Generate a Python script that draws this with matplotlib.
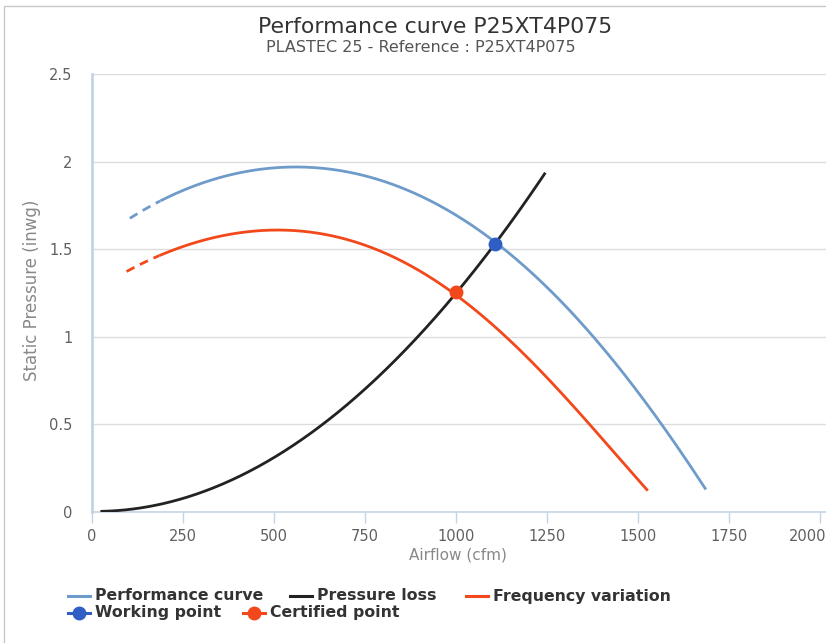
import numpy as np
import matplotlib
matplotlib.use("Agg")
import matplotlib.pyplot as plt
from matplotlib.lines import Line2D
from matplotlib.patches import Rectangle
import matplotlib.transforms as mtrans

# ---- data ----
perf_x = [104, 150, 191, 250, 324, 416, 500, 553, 600, 690, 750, 828, 900, 1000, 1107, 1200, 1300, 1386, 1500, 1560, 1600, 1684]
perf_y = [1.678, 1.73, 1.78, 1.84, 1.887, 1.939, 1.965, 1.97, 1.967, 1.945, 1.92, 1.878, 1.81, 1.683, 1.53, 1.37, 1.19, 1.00, 0.68, 0.50, 0.385, 0.145]
perf_dash_end = 191

freq_x = [95, 140, 187, 250, 324, 400, 489, 560, 645, 700, 782, 901, 1000, 1130, 1200, 1300, 1368, 1450, 1524]
freq_y = [1.373, 1.42, 1.463, 1.52, 1.558, 1.595, 1.612, 1.605, 1.575, 1.55, 1.497, 1.385, 1.253, 1.00, 0.86, 0.66, 0.50, 0.31, 0.122]
freq_dash_end = 187

loss_x = [27, 100, 200, 300, 400, 500, 631, 700, 800, 900, 1000, 1107, 1200, 1243]
loss_y = [0.005, 0.013, 0.05, 0.11, 0.20, 0.31, 0.50, 0.61, 0.80, 1.01, 1.25, 1.53, 1.80, 1.93]

working_point = (1107, 1.53)
certified_point = (1000, 1.253)

x_ticks = [0, 250, 500, 750, 1000, 1250, 1500, 1750, 2000]
y_ticks = [0, 0.5, 1, 1.5, 2, 2.5]
y_tick_labels = ["0", "0.5", "1", "1.5", "2", "2.5"]

C_PERF = "#6f9bca"
C_LOSS = "#222222"
C_FREQ = "#f2481b"
C_WORK = "#2f5fc4"
C_CERT = "#f2481b"


def smooth(xs, ys, deg):
    """Least-squares smoothing of the read points (rendering only)."""
    xs = np.asarray(xs, float); ys = np.asarray(ys, float)
    c = np.polyfit(xs, ys, deg)
    sx = np.linspace(xs[0], xs[-1], 400)
    return sx, np.polyval(c, sx)


W, H = 826, 643
plt.rcParams['font.family'] = ['DejaVu Sans']
fig = plt.figure(figsize=(W/100, H/100), dpi=100)

# outer frame
fig.patches.append(Rectangle((4/W, -0.1), 1.2, 1 - 6/H + 0.1, transform=fig.transFigure,
                             fill=False, edgecolor="#c8c8c8", linewidth=1.0))

ax = fig.add_axes([92/W, 1-512/H, (W-92)/W, (512-74)/H])
ax.set_xlim(0, 2016)
ax.set_ylim(0, 2.5)

DASH = (3.2, 2.2)
sx, sy = smooth(perf_x, perf_y, 5)
m = sx <= perf_dash_end
ax.plot(sx[m], sy[m], color=C_PERF, lw=2, dashes=DASH, solid_capstyle='butt', zorder=3)
ax.plot(sx[sx >= perf_dash_end], sy[sx >= perf_dash_end], color=C_PERF, lw=2, zorder=3)

fx, fy = smooth(freq_x, freq_y, 5)
m = fx <= freq_dash_end
ax.plot(fx[m], fy[m], color=C_FREQ, lw=2, dashes=DASH, solid_capstyle='butt', zorder=3)
ax.plot(fx[fx >= freq_dash_end], fy[fx >= freq_dash_end], color=C_FREQ, lw=2, zorder=3)

lx, ly = smooth(loss_x, loss_y, 3)
ax.plot(lx, ly, color=C_LOSS, lw=2, zorder=3)

ax.plot(*working_point, 'o', color=C_WORK, ms=9, zorder=5)
ax.plot(*certified_point, 'o', color=C_CERT, ms=9, zorder=5)

# axes styling
for s in ("top", "right"):
    ax.spines[s].set_visible(False)
ax.spines["left"].set_color("#c3d4e6")
ax.spines["left"].set_linewidth(2)
ax.spines["bottom"].set_color("#c3d4e6")
ax.spines["bottom"].set_linewidth(1.2)
ax.set_yticks(y_ticks)
ax.set_yticklabels(y_tick_labels)
ax.set_xticks(x_ticks)
ax.set_xticklabels([str(v) for v in x_ticks])
ax.grid(axis="y", color="#dcdcdc", lw=1)
ax.set_axisbelow(True)
ax.tick_params(axis="y", length=0, pad=14, labelsize=10.5, labelcolor="#606060")
ax.tick_params(axis="x", length=8, width=1, color="#c3d4e6", pad=4, labelsize=10.5, labelcolor="#606060")
last = ax.get_xticklabels()[-1]
last.set_horizontalalignment("right")
last.set_transform(last.get_transform() + mtrans.ScaledTranslation(6/100, 0, fig.dpi_scale_trans))

fig.text(458/W, 1-555/H, "Airflow (cfm)", ha="center", va="center", fontsize=11, color="#888888")
fig.text(32/W, 1-290/H, "Static Pressure (inwg)", ha="center", va="center", rotation=90, fontsize=12, color="#888888")

# titles
fig.text(435/W, 1-27/H, "Performance curve P25XT4P075", ha="center", va="center", fontsize=15.8, color="#333333")
fig.text(421/W, 1-48/H, "PLASTEC 25 - Reference : P25XT4P075", ha="center", va="center", fontsize=11.5, color="#555555")

# legend (manual)
def leg_line(x0, y, color, text, marker=None):
    yy = 1 - y/H
    fig.add_artist(Line2D([x0/W, (x0+22)/W], [yy, yy], color=color, lw=2.2, transform=fig.transFigure))
    if marker:
        fig.add_artist(Line2D([(x0+11)/W], [yy], marker='o', ms=9, color=color, transform=fig.transFigure))
    fig.text((x0+27)/W, yy, text, ha="left", va="center", fontsize=11.3, fontweight="bold", color="#333333")

leg_line(68, 596, C_PERF, "Performance curve")
leg_line(290, 596, C_LOSS, "Pressure loss")
leg_line(466, 596, C_FREQ, "Frequency variation")
leg_line(68, 613, C_WORK, "Working point", marker=True)
leg_line(243, 613, C_CERT, "Certified point", marker=True)

fig.savefig("out.png", dpi=100)
